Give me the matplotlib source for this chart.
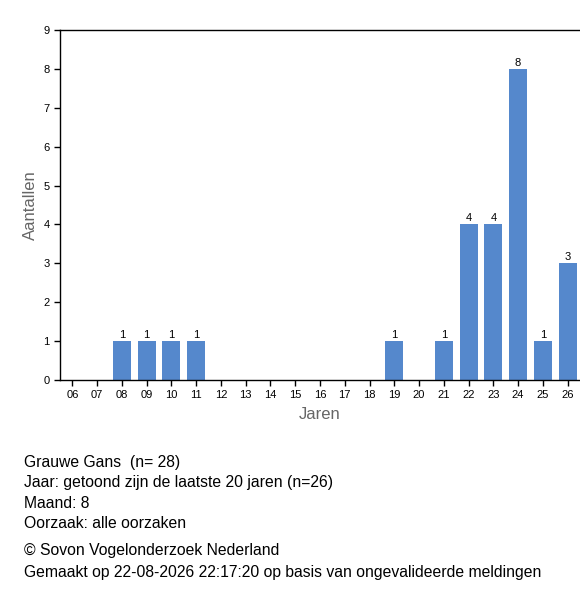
import matplotlib
matplotlib.use('Agg')
from matplotlib import pyplot as plt
import numpy as np

plt.rcParams['font.family'] = ['Liberation Sans', 'DejaVu Sans']

# jaren en aantallen
jaren = ['06', '07', '08', '09', '10', '11', '12', '13', '14', '15', '16',
         '17', '18', '19', '20', '21', '22', '23', '24', '25', '26']
aantallen = [0, 0, 1, 1, 1, 1, 0, 0, 0, 0, 0, 0, 0, 1, 0, 1, 4, 4, 8, 1, 3]

info_regels = [
    'Grauwe Gans  (n= 28)',
    'Jaar: getoond zijn de laatste 20 jaren (n=26)',
    'Maand: 8',
    'Oorzaak: alle oorzaken',
]
bron_regels = [
    '\u00a9 Sovon Vogelonderzoek Nederland',
    'Gemaakt op 22-08-2026 22:17:20 op basis van ongevalideerde meldingen',
]

fig = plt.figure(figsize=(5.8, 6.0), dpi=100)
ax = fig.add_axes([60 / 580, 1 - 380 / 600, 520 / 580, 350 / 600])

x = np.arange(len(jaren))
bars = ax.bar(x, aantallen, width=0.73, color='#5588cc')
for xi, v in zip(x, aantallen):
    if v > 0:
        ax.text(xi, v + 0.03, str(v), ha='center', va='bottom', fontsize=8, color='black')

ax.set_xlim(-0.5, len(jaren) - 0.5)
ax.set_ylim(0, 9)
ax.set_yticks(range(10))
ax.set_xticks(x)
ax.set_xticklabels(jaren)
ax.tick_params(axis='both', labelsize=8, length=4, width=1, colors='black')
ax.spines['right'].set_visible(False)
for s in ['left', 'bottom', 'top']:
    ax.spines[s].set_linewidth(1)
ax.set_ylabel('Aantallen', fontsize=12, color='#666666', labelpad=4)
ax.set_xlabel('Jaren', fontsize=12, color='#666666', labelpad=5)

y = 462
for regel in info_regels:
    fig.text(24 / 580, 1 - y / 600, regel, fontsize=11.3, va='center', ha='left')
    y += 20.5
y = 551
for regel in bron_regels:
    fig.text(24 / 580, 1 - y / 600, regel, fontsize=11.3, va='center', ha='left')
    y += 21

fig.savefig('out.png', dpi=100)
